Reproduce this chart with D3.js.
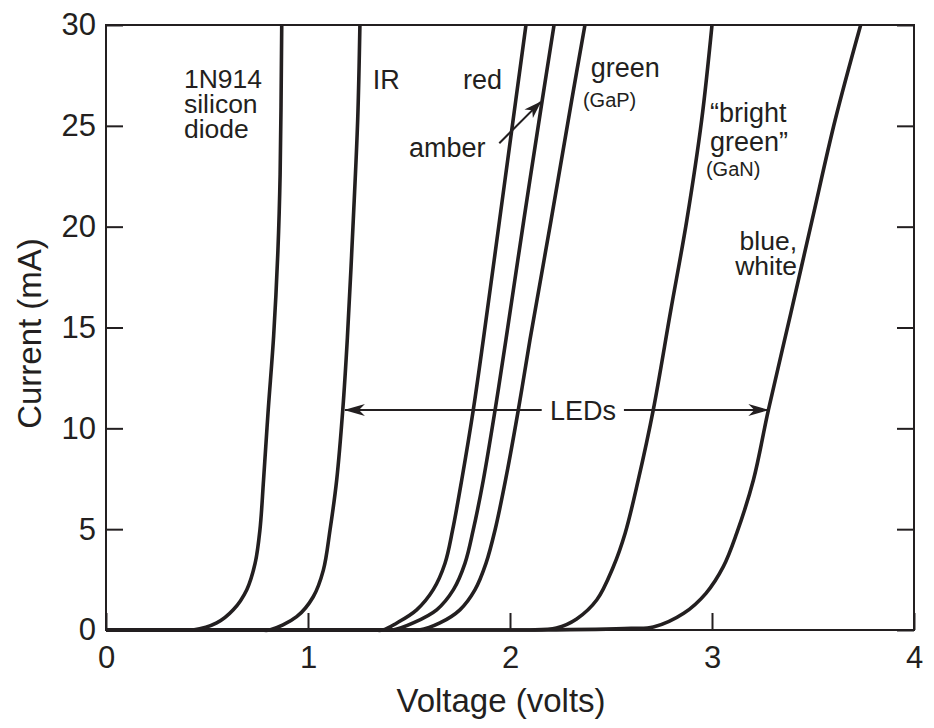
<!DOCTYPE html>
<html>
<head>
<meta charset="utf-8">
<script src="https://cdn.jsdelivr.net/npm/d3@7"></script>
<style>
  html, body { margin: 0; padding: 0; background: #fff; }
  svg { display: block; font-family: "Liberation Sans", Arial, Helvetica, sans-serif; }
</style>
</head>
<body>
<svg id="chart" width="934" height="728"></svg>
<script>
// ---- data (voltage in volts, current in mA) ----
const xTicks = [0, 1, 2, 3, 4];
const yTicks = [0, 5, 10, 15, 20, 25, 30];
const xLabel = "Voltage (volts)";
const yLabel = "Current (mA)";

const diode1N914 = [[0,0],[0.38,0],[0.43,0],[0.548,0.35],[0.63,1.0],[0.697,2.0],[0.738,3.3],[0.762,4.96],[0.780,7.44],[0.803,10.9],[0.830,14.6],[0.851,18.8],[0.862,22.6],[0.870,30]];
const ledIR = [[0,0],[0.76,0],[0.81,0],[0.944,0.66],[1.026,1.65],[1.076,2.97],[1.109,4.96],[1.142,7.44],[1.172,10.9],[1.195,14.5],[1.224,20.3],[1.246,25.3],[1.257,30]];
const ledRed = [[0,0],[1.32,0],[1.37,0],[1.44,0.35],[1.538,1.0],[1.62,2.0],[1.678,3.3],[1.716,4.96],[1.761,7.44],[1.818,10.9],[1.868,14.4],[1.948,20.3],[2.029,26.3],[2.079,30]];
const ledAmber = [[0,0],[1.37,0],[1.42,0],[1.521,0.35],[1.637,1.0],[1.72,2.0],[1.777,3.3],[1.818,4.96],[1.868,7.44],[1.926,10.9],[1.980,14.4],[2.068,20.3],[2.16,26.3],[2.218,30]];
const ledGreenGaP = [[0,0],[1.50,0],[1.55,0],[1.653,0.35],[1.752,1.0],[1.827,2.0],[1.881,3.3],[1.926,4.96],[1.978,7.44],[2.041,10.9],[2.099,14.4],[2.203,20.3],[2.306,26.3],[2.371,30]];
const ledBrightGreen = [[0,0],[2.05,0],[2.1,0],[2.23,0.1],[2.33,0.55],[2.43,1.5],[2.51,3.1],[2.57,4.8],[2.635,7.44],[2.709,10.9],[2.795,15.8],[2.875,20.3],[2.949,25.3],[3.0,30]];
const ledBlueWhite = [[0,0],[2.1,0],[2.15,0],[2.6,0.08],[2.71,0.15],[2.86,0.83],[2.97,1.82],[3.056,3.14],[3.122,4.79],[3.205,7.44],[3.279,10.9],[3.390,15.7],[3.495,20.3],[3.610,25.3],[3.736,30]];
const seriesList = [diode1N914, ledIR, ledRed, ledAmber, ledGreenGaP, ledBrightGreen, ledBlueWhite];

// ---- layout ----
const svg = d3.select("#chart");
const ink = "#231f20";
const x = d3.scaleLinear().domain([0, 4]).range([106, 914]);
const y = d3.scaleLinear().domain([0, 30]).range([630, 25]);

// markers
const defs = svg.append("defs");
defs.append("marker").attr("id", "arrow").attr("markerUnits", "userSpaceOnUse")
  .attr("viewBox", "-22 -8 24 16").attr("refX", 0).attr("refY", 0)
  .attr("markerWidth", 24).attr("markerHeight", 16).attr("orient", "auto")
  .append("path").attr("d", "M1,0 L-20,-6 L-14,0 L-20,6 Z").attr("fill", ink);
defs.append("marker").attr("id", "arrowSmall").attr("markerUnits", "userSpaceOnUse")
  .attr("viewBox", "-20 -8 22 16").attr("refX", 0).attr("refY", 0)
  .attr("markerWidth", 22).attr("markerHeight", 16).attr("orient", "auto")
  .append("path").attr("d", "M1,0 L-17,-6 L-12,0 L-17,6 Z").attr("fill", ink);

// frame
svg.append("rect").attr("x", x(0)).attr("y", y(30))
  .attr("width", x(4) - x(0)).attr("height", y(0) - y(30))
  .attr("fill", "none").attr("stroke", ink).attr("stroke-width", 2);

const tickFont = 31;
const gl = svg.append("g").attr("transform", `translate(${x(0)},0)`)
  .call(d3.axisLeft(y).tickValues(yTicks).tickSizeInner(-17).tickSizeOuter(0).tickPadding(10).tickFormat(d3.format("d")));
const gr = svg.append("g").attr("transform", `translate(${x(4)},0)`)
  .call(d3.axisRight(y).tickValues(yTicks).tickSizeInner(-17).tickSizeOuter(0).tickFormat(""));
const gb = svg.append("g").attr("transform", `translate(0,${y(0)})`)
  .call(d3.axisBottom(x).tickValues(xTicks).tickSizeInner(-17).tickSizeOuter(0).tickPadding(16).tickFormat(d3.format("d")));

[gl, gr, gb].forEach(g => {
  g.select(".domain").remove();
  g.selectAll(".tick line").attr("stroke", ink).attr("stroke-width", 2);
  g.selectAll(".tick text").attr("fill", ink).style("font-size", tickFont + "px")
    .style("font-family", '"Liberation Sans", Arial, sans-serif');
});

// axis titles
svg.append("text").attr("x", 501).attr("y", 712).attr("text-anchor", "middle")
  .attr("fill", ink).style("font-size", "33px").text(xLabel);
svg.append("text").attr("transform", `translate(41,${(y(0) + y(30)) / 2 + 6}) rotate(-90)`)
  .attr("text-anchor", "middle").attr("fill", ink).style("font-size", "33px").text(yLabel);

// curves
const line = d3.line().x(d => x(d[0])).y(d => y(d[1])).curve(d3.curveCatmullRom.alpha(0.5));
svg.append("g").selectAll("path").data(seriesList).join("path")
  .attr("d", line).attr("fill", "none").attr("stroke", ink)
  .attr("stroke-width", 3.6).attr("stroke-linejoin", "round").attr("stroke-linecap", "butt");

// annotations
const ann = svg.append("g").attr("fill", ink);
function label(lines, vx, vy, size, anchor, lineGap) {
  lines.forEach((s, i) => ann.append("text")
    .attr("x", x(vx)).attr("y", y(vy) + i * (lineGap || 0))
    .attr("text-anchor", anchor || "start").style("font-size", size + "px").text(s));
}
label(["1N914", "silicon", "diode"], 0.386, 26.87, 26.5, "start", 25);
label(["IR"], 1.32, 26.82, 27);
label(["red"], 1.767, 26.82, 27);
label(["amber"], 1.50, 23.45, 27);
label(["green"], 2.40, 27.42, 27);
label(["(GaP)"], 2.361, 25.93, 20);
label(["\u201Cbright", "green\u201D"], 2.99, 25.19, 27, "start", 29);
label(["(GaN)"], 2.97, 22.51, 20);
label(["blue,", "white"], 3.421, 18.84, 26.5, "end", 25);
label(["LEDs"], 2.361, 10.41, 27, "middle");

// amber pointer arrow
ann.append("line").attr("x1", x(1.947)).attr("y1", y(24.14)).attr("x2", x(2.152)).attr("y2", y(26.19))
  .attr("stroke", ink).attr("stroke-width", 2).attr("marker-end", "url(#arrowSmall)");
// LEDs span arrows
ann.append("line").attr("x1", x(2.157)).attr("y1", y(10.91)).attr("x2", x(1.183)).attr("y2", y(10.91))
  .attr("stroke", ink).attr("stroke-width", 2).attr("marker-end", "url(#arrow)");
ann.append("line").attr("x1", x(2.564)).attr("y1", y(10.91)).attr("x2", x(3.279)).attr("y2", y(10.91))
  .attr("stroke", ink).attr("stroke-width", 2).attr("marker-end", "url(#arrow)");
</script>
</body>
</html>
